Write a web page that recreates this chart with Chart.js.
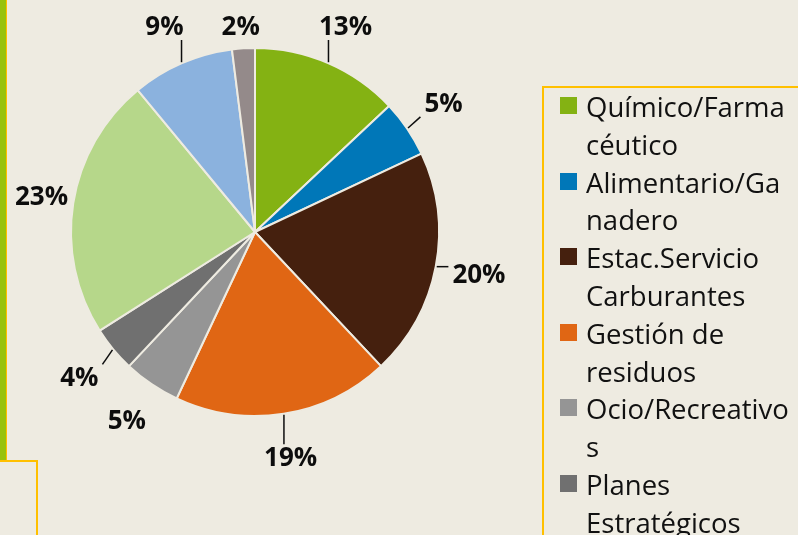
<!DOCTYPE html>
<html lang="es">
<head>
<meta charset="UTF-8">
<title>Sectores</title>
<script src="https://cdn.jsdelivr.net/npm/chart.js"></script>
<style>
  body {
    margin: 0;
    width: 798px;
    height: 535px;
    overflow: hidden;
    position: relative;
    background: #eeebe1;
    font-family: "Open Sans", sans-serif;
  }
  #grafico { position: absolute; left: 0; top: 0; }
  .barra {
    position: absolute; left: 0; top: 0;
    width: 6px; height: 460px;
    background: #97c20f;
    border-right: 1px solid #ffc000;
  }
  .caja-abajo {
    position: absolute; left: -4px; top: 460px;
    width: 38px; height: 100px;
    border: 2px solid #ffc000;
  }
  .leyenda {
    position: absolute; left: 542px; top: 86px;
    width: 300px; height: 900px;
    border: 2px solid #ffc000;
  }
  .leyenda ul { list-style: none; margin: 0; padding: 0; }
  .leyenda li { position: relative; padding-left: 42px; }
  .leyenda .marca {
    position: absolute; left: 16px; top: 9px;
    width: 17px; height: 17px;
  }
  .leyenda .texto {
    width: 208px;
    font-size: 27.5px;
    line-height: 37.8px;
    color: #111;
    overflow-wrap: anywhere;
  }
</style>
</head>
<body>
  <canvas id="grafico" width="798" height="535"></canvas>
  <div class="barra"></div>
  <div class="caja-abajo"></div>
  <div class="leyenda"><ul id="items"></ul></div>
<script>
const sectores = ['Químico/Farmacéutico', 'Alimentario/Ganadero', 'Estac.Servicio Carburantes',
  'Gestión de residuos', 'Ocio/Recreativos', 'Planes Estratégicos', 'Urbanismo', 'Turismo', 'Otros'];
const porcentajes = [13, 5, 20, 19, 5, 4, 23, 9, 2];
const colores = ['#84b213', '#0077b8', '#45200e', '#e06614', '#959595', '#707070', '#b6d78a', '#8bb2de', '#948a8a'];
const conGuia = [0, 1, 2, 3, 5, 7];

// leyenda en html para que el texto se corte en varias lineas
const ul = document.getElementById('items');
sectores.forEach((s, i) => {
  const li = document.createElement('li');
  li.innerHTML = '<span class="marca" style="background:' + colores[i] + '"></span><div class="texto">' + s + '</div>';
  ul.appendChild(li);
});

const etiquetas = {
  id: 'etiquetas',
  afterDatasetsDraw(chart) {
    const ctx = chart.ctx;
    const arcs = chart.getDatasetMeta(0).data;
    ctx.save();
    ctx.font = 'bold 26px "Open Sans", sans-serif';
    ctx.fillStyle = '#0d0d0d';
    ctx.strokeStyle = '#0d0d0d';
    ctx.lineWidth = 1.5;
    ctx.textAlign = 'center';
    ctx.textBaseline = 'middle';
    arcs.forEach((arc, i) => {
      const p = arc.getProps(['x', 'y', 'startAngle', 'endAngle', 'outerRadius'], true);
      const mid = (p.startAngle + p.endAngle) / 2;
      const dx = Math.cos(mid), dy = Math.sin(mid);
      const txt = porcentajes[i] + '%';
      const w = ctx.measureText(txt).width;
      // las etiquetas no se salen del area del grafico
      const lx = Math.max(p.x + (p.outerRadius + 44) * dx, 15 + w / 2);
      const ly = Math.max(p.y + (p.outerRadius + 44) * dy, 27);
      if (conGuia.includes(i)) {
        const sx = p.x + (p.outerRadius + 1) * dx;
        const sy = p.y + (p.outerRadius + 1) * dy;
        const ex = Math.min(Math.max(sx, lx - w / 2 - 4), lx + w / 2 + 4);
        const ey = Math.min(Math.max(sy, ly - 13), ly + 13);
        ctx.beginPath();
        ctx.moveTo(sx, sy);
        ctx.lineTo(ex, ey);
        ctx.stroke();
      }
      ctx.fillText(txt, lx, ly + 1);
    });
    ctx.restore();
  }
};

new Chart(document.getElementById('grafico'), {
  type: 'pie',
  data: {
    labels: sectores,
    datasets: [{
      data: porcentajes,
      backgroundColor: colores,
      borderColor: '#eeebe1',
      borderWidth: 2
    }]
  },
  options: {
    responsive: false,
    animation: false,
    devicePixelRatio: 1,
    layout: { padding: { left: 70, top: 47, right: 358, bottom: 118 } },
    plugins: {
      legend: { display: false },
      tooltip: { enabled: false }
    }
  },
  plugins: [etiquetas]
});
</script>
</body>
</html>
